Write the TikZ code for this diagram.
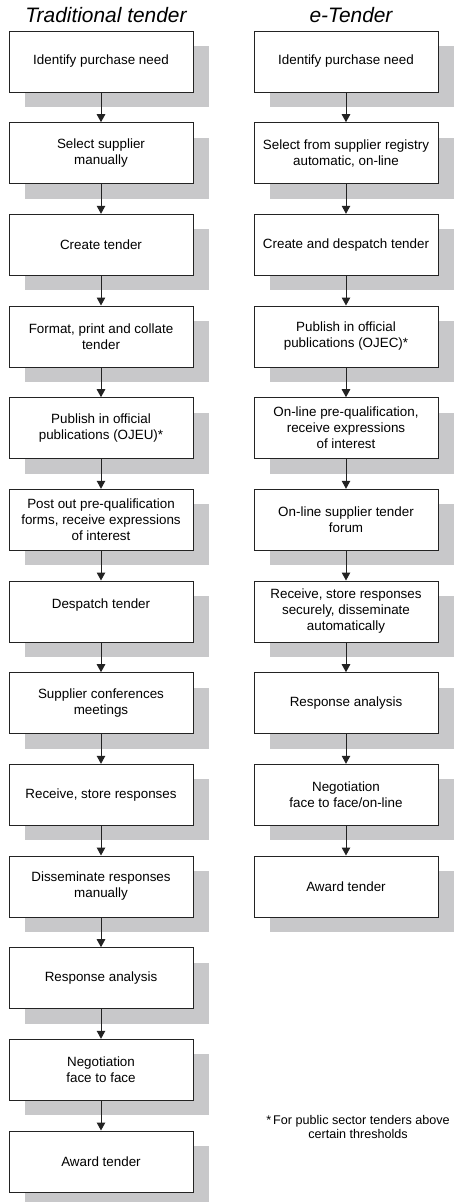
\documentclass[tikz,border=0pt]{standalone}
\usepackage{fontspec}
\setmainfont{Liberation Sans}
\usetikzlibrary{arrows.meta,shadows}

\definecolor{shadowgrey}{RGB}{200,200,202}
\definecolor{linegrey}{RGB}{35,35,35}

\tikzset{
  stage/.style={draw=linegrey, line width=1pt, fill=white,
    minimum width=184pt, minimum height=61pt, inner sep=2pt, align=center,
    font=\fontsize{13.4}{16}\selectfont,
    drop shadow={shadow xshift=16pt, shadow yshift=-15pt, fill=shadowgrey, opacity=1}},
  flow/.style={draw=linegrey, line width=1pt, -{Triangle[width=8.5pt,length=8pt]}},
  heading/.style={font=\fontsize{20.9}{24}\selectfont\itshape, anchor=base},
  note/.style={font=\fontsize{12.6}{14}\selectfont, align=center}
}

\begin{document}
\begin{tikzpicture}[x=1pt,y=-1pt]
    \useasboundingbox (0,0) rectangle (455,1202);

    % Titoli delle colonne
    \node[heading] (tradtitle) at (106,22) {Traditional tender};
    \node[heading] (etntitle) at (351,22) {e-Tender};

    % Colonna sinistra: gara tradizionale
    \node[stage] (trad1) at (101,61.5) {Identify purchase need};
    \node[stage] (trad2) at (101,153.2) {Select supplier\\manually};
    \node[stage] (trad3) at (101,244.8) {Create tender};
    \node[stage] (trad4) at (101,336.5) {Format, print and collate\\tender};
    \node[stage] (trad5) at (101,428.2) {Publish in official\\publications (OJEU)*};
    \node[stage] (trad6) at (101,519.8) {Post out pre-qualification\\forms, receive expressions\\of interest};
    \node[stage] (trad7) at (101,611.5) {Despatch tender\\\mbox{}};
    \node[stage] (trad8) at (101,703.2) {Supplier conferences\\meetings};
    \node[stage] (trad9) at (101,794.8) {Receive, store responses};
    \node[stage] (trad10) at (101,886.5) {Disseminate responses\\manually};
    \node[stage] (trad11) at (101,978.2) {Response analysis};
    \node[stage] (trad12) at (101,1069.8) {Negotiation\\face to face};
    \node[stage] (trad13) at (101,1161.5) {Award tender};

    % Colonna destra: gara elettronica
    \node[stage] (etn1) at (346,61.5) {Identify purchase need};
    \node[stage] (etn2) at (346,153.2) {Select from supplier registry\\automatic, on-line};
    \node[stage] (etn3) at (346,244.8) {Create and despatch tender};
    \node[stage] (etn4) at (346,336.5) {Publish in official\\publications (OJEC)*};
    \node[stage] (etn5) at (346,428.2) {On-line pre-qualification,\\receive expressions\\of interest};
    \node[stage] (etn6) at (346,519.8) {On-line supplier tender\\forum};
    \node[stage] (etn7) at (346,611.5) {Receive, store responses\\securely, disseminate\\automatically};
    \node[stage] (etn8) at (346,703.2) {Response analysis};
    \node[stage] (etn9) at (346,794.8) {Negotiation\\face to face/on-line};
    \node[stage] (etn10) at (346,886.5) {Award tender};

    % Frecce tra i passi
    \draw[flow] (trad1) -- (trad2);
    \draw[flow] (trad2) -- (trad3);
    \draw[flow] (trad3) -- (trad4);
    \draw[flow] (trad4) -- (trad5);
    \draw[flow] (trad5) -- (trad6);
    \draw[flow] (trad6) -- (trad7);
    \draw[flow] (trad7) -- (trad8);
    \draw[flow] (trad8) -- (trad9);
    \draw[flow] (trad9) -- (trad10);
    \draw[flow] (trad10) -- (trad11);
    \draw[flow] (trad11) -- (trad12);
    \draw[flow] (trad12) -- (trad13);

    \draw[flow] (etn1) -- (etn2);
    \draw[flow] (etn2) -- (etn3);
    \draw[flow] (etn3) -- (etn4);
    \draw[flow] (etn4) -- (etn5);
    \draw[flow] (etn5) -- (etn6);
    \draw[flow] (etn6) -- (etn7);
    \draw[flow] (etn7) -- (etn8);
    \draw[flow] (etn8) -- (etn9);
    \draw[flow] (etn9) -- (etn10);

    % Nota
    \node[note] (footnote) at (358,1127) {*\,For public sector tenders above\\certain thresholds};
\end{tikzpicture}
\end{document}
